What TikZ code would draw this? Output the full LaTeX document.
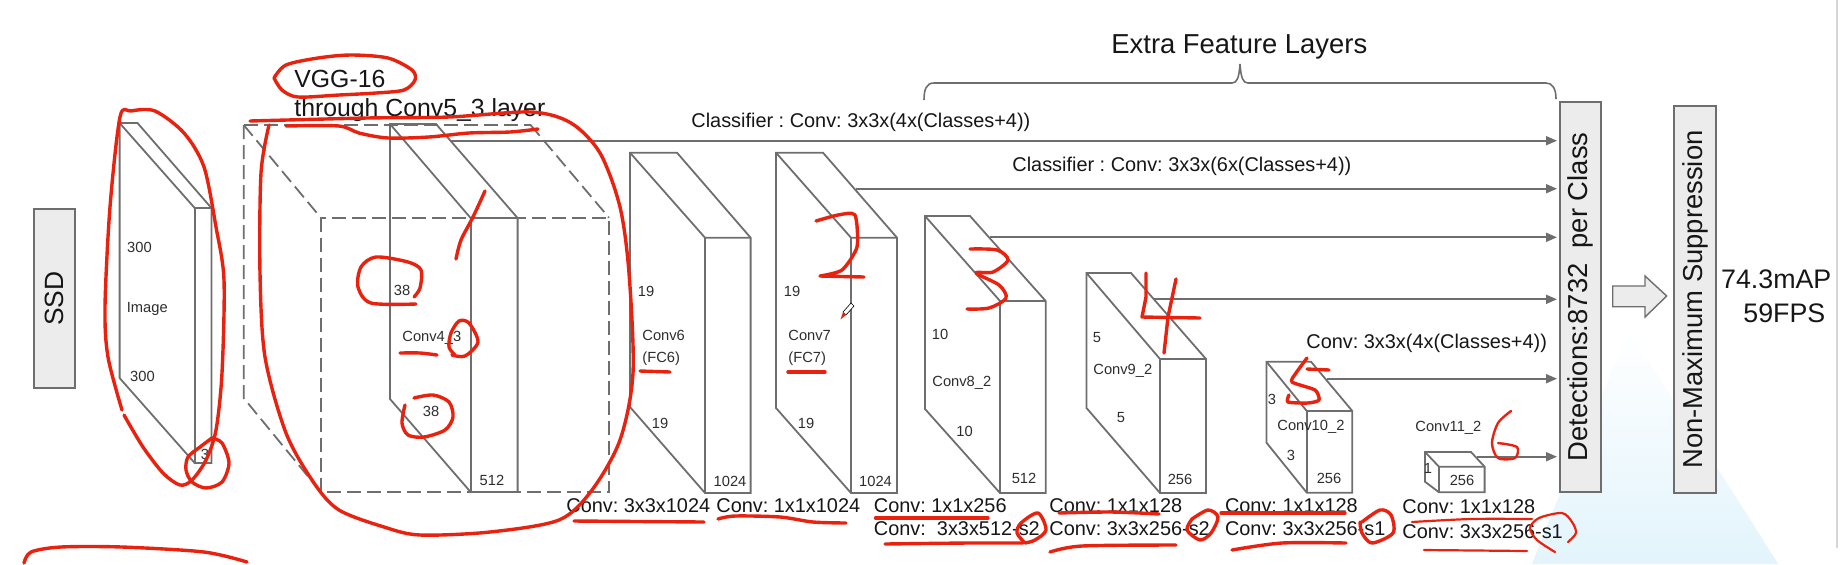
\documentclass[tikz,border=0pt]{standalone}
\usepackage{fontspec}
\setmainfont{Liberation Sans}
\usetikzlibrary{arrows.meta, fadings}
\definecolor{linegray}{HTML}{6E6E6E}
\definecolor{boxgray}{HTML}{ECECEC}
\definecolor{inkred}{HTML}{E8220F}
\definecolor{paleblue}{HTML}{E2F4FC}
\definecolor{inktext}{HTML}{161616}
\frenchspacing

\begin{document}
\begin{tikzpicture}[
		x=0.5pt, y=-0.5pt,
		% Estilos
		cuboid/.style = {draw=linegray, line width=0.9pt, line join=miter},
		dashcube/.style = {draw=linegray, line width=0.9pt, dash pattern=on 7pt off 3pt},
		sidebox/.style = {draw=linegray, line width=1pt, fill=boxgray, rotate=90, inner sep=0pt, text=inktext, font=\fontsize{13.7}{16}\selectfont},
		title/.style = {inner sep=0pt, anchor=west, text=inktext, font=\fontsize{12.4}{15}\selectfont},
		big/.style = {inner sep=0pt, anchor=west, text=inktext, font=\fontsize{13.7}{16}\selectfont},
		score/.style = {inner sep=0pt, anchor=west, text=inktext, font=\fontsize{13.4}{16}\selectfont},
		conv/.style = {inner sep=0pt, anchor=west, text=inktext, font=\fontsize{9.95}{12}\selectfont},
		dim/.style = {inner sep=0pt, text=inktext!90, font=\fontsize{7.35}{9}\selectfont},
		dimw/.style = {dim, anchor=west},
		feed/.style = {draw=linegray, line width=0.9pt, -{Triangle[length=5.5pt,width=4.5pt]}, shorten >=1pt},
		ink/.style = {draw=inkred, line width=1.7pt, line cap=round, line join=round}
		]
		\useasboundingbox (0,0) rectangle (1845,564);
		
		% --- FONDO ---
		\fill [paleblue, path fading=north] (1532,564) .. controls (1560,490) and (1600,400) .. (1629,330) .. controls (1660,380) and (1700,440) .. (1778,564) -- cycle;
		\draw [black!16, line width=1.4pt] (1837,0) -- (1837,548);
		
		% --- CAJAS LATERALES ---
		\node [sidebox, minimum width=89.5pt, minimum height=20.7pt] (ssd) at (54.7,298.5) {\fontsize{13.2}{16}\selectfont SSD};
		\node [sidebox, minimum width=195pt, minimum height=20.6pt] (det) at (1580.6,297) {Detections:8732\ \ per Class};
		\node [sidebox, minimum width=193.6pt, minimum height=21pt] (nms) at (1695,299.4) {Non-Maximum Suppression};
		\draw [draw=linegray, line width=0.7pt, fill=boxgray] (1612.7,286) -- (1645,286) -- (1645,276) -- (1666.7,296) -- (1645,317) -- (1645,306.7) -- (1612.7,306.7) -- cycle;
		
		% --- BLOQUES ---
		% Image
		\draw [cuboid] (119.6,123) -- (137.5,123) -- (211.4,208) -- (211.4,463) -- (194.7,463) -- (119.6,378) -- cycle;
		\draw [cuboid] (119.6,123) -- (194.7,208) -- (211.4,208);
		\draw [cuboid] (194.7,208) -- (194.7,463);
		% VGG-16 (discontinuo)
		\draw [dashcube] (243.7,125) -- (530.6,125);
		\draw [dashcube] (243.7,125) -- (243.7,398) -- (320.8,492);
		\draw [dashcube] (320.8,217.7) rectangle (609,492);
		\draw [dashcube] (243.7,125) -- (320.8,217.7);
		\draw [dashcube] (530.6,125) -- (609,217.7);
		% Conv4_3
		\draw [cuboid] (390,124) -- (436,124) -- (517.6,218) -- (517.6,492) -- (470.6,492) -- (390,399) -- cycle;
		\draw [cuboid] (390,124) -- (470.6,218) -- (517.6,218);
		\draw [cuboid] (470.6,218) -- (470.6,492);
		% Conv6
		\draw [cuboid] (630,152.7) -- (677,152.7) -- (750.6,237.7) -- (750.6,493) -- (705,493) -- (630,407) -- cycle;
		\draw [cuboid] (630,152.7) -- (705,237.7) -- (750.6,237.7);
		\draw [cuboid] (705,237.7) -- (705,493);
		% Conv7
		\draw [cuboid] (776,152.7) -- (823,152.7) -- (897,237.7) -- (897,493) -- (851,493) -- (776,408) -- cycle;
		\draw [cuboid] (776,152.7) -- (851,237.7) -- (897,237.7);
		\draw [cuboid] (851,237.7) -- (851,493);
		% Conv8_2
		\draw [cuboid] (925,216) -- (970,216) -- (1045.7,301) -- (1045.7,493) -- (1000,493) -- (925,409) -- cycle;
		\draw [cuboid] (925,216) -- (1000,301) -- (1045.7,301);
		\draw [cuboid] (1000,301) -- (1000,493);
		% Conv9_2
		\draw [cuboid] (1086.5,273) -- (1131,273) -- (1206,359) -- (1206,493) -- (1160,493) -- (1086.5,408) -- cycle;
		\draw [cuboid] (1086.5,273) -- (1160,359) -- (1206,359);
		\draw [cuboid] (1160,359) -- (1160,493);
		% Conv10_2
		\draw [cuboid] (1266.5,361.7) -- (1311,361.7) -- (1352.3,411) -- (1352.3,492.7) -- (1306.8,492.7) -- (1266.5,442.7) -- cycle;
		\draw [cuboid] (1266.5,361.7) -- (1306.8,411) -- (1352.3,411);
		\draw [cuboid] (1306.8,411) -- (1306.8,492.7);
		% Conv11_2
		\draw [cuboid] (1425,452) -- (1471,452) -- (1484.6,466.7) -- (1484.6,492.3) -- (1439,492.3) -- (1425,481.7) -- cycle;
		\draw [cuboid] (1425,452) -- (1439,466.7) -- (1484.6,466.7);
		\draw [cuboid] (1439,466.7) -- (1439,492.3);
		
		% --- LLAVE ---
		\node [big] (extra) at (1111,47) {Extra Feature Layers};
		\draw [draw=linegray, line width=0.8pt] (924,100) .. controls (924,90) and (926,83) .. (934,83) -- (1232,83) .. controls (1237,83) and (1239,78) .. (1240,64) .. controls (1241,78) and (1243,83) .. (1248,83) -- (1546,83) .. controls (1552,83) and (1556,88) .. (1556,99);
		
		% --- CONEXIONES ---
		\coordinate (tap1) at (451,140.7);
		\coordinate (tap2) at (856,188.7);
		\coordinate (tap3) at (990,237.3);
		\coordinate (tap4) at (1154,299.3);
		\coordinate (tap5) at (1327,378.7);
		\coordinate (tap6) at (1477,456.7);
		\draw [feed] (tap1) -- (tap1 -| det.north);
		\draw [feed] (tap2) -- (tap2 -| det.north);
		\draw [feed] (tap3) -- (tap3 -| det.north);
		\draw [feed] (tap4) -- (tap4 -| det.north);
		\draw [feed] (tap5) -- (tap5 -| det.north);
		\draw [feed] (tap6) -- (tap6 -| det.north);
		
		% --- TEXTOS ---
		\node [title] (vgg) at (294,79) {VGG-16};
		\node [title] (through) at (294,110) {through Conv5\_3 layer};
		\node [conv] (cls1) at (691,122) {Classifier : Conv: 3x3x(4x(Classes+4))};
		\node [conv] (cls2) at (1012,166) {Classifier : Conv: 3x3x(6x(Classes+4))};
		\node [conv] (cls3) at (1306,343) {Conv: 3x3x(4x(Classes+4))};
		\node [score] (map) at (1720.7,279) {74.3mAP};
		\node [score] (fps) at (1743,313) {59FPS};
		
		\node [dim] (img_w) at (139.5,247) {300};
		\node [dimw] (img_lbl) at (126.5,309) {Image};
		\node [dim] (img_h) at (142.5,376) {300};
		\node [dim] (img_d) at (205,454) {3};
		
		\node [dim] (c4_w) at (402,290) {38};
		\node [dimw] (c4_lbl) at (402,338) {Conv4\_3};
		\node [dim] (c4_h) at (431,411) {38};
		\node [dim] (c4_d) at (492,480) {512};
		
		\node [dim] (c6_w) at (646,291) {19};
		\node [dimw, align=left] (c6_lbl) at (642,348) {Conv6\\[2pt](FC6)};
		\node [dim] (c6_h) at (660,423) {19};
		\node [dim] (c6_d) at (730,481) {1024};
		
		\node [dim] (c7_w) at (792,291) {19};
		\node [dimw, align=left] (c7_lbl) at (788,348) {Conv7\\[2pt](FC7)};
		\node [dim] (c7_h) at (806,423) {19};
		\node [dim] (c7_d) at (875.5,481) {1024};
		
		\node [dim] (c8_w) at (940,334) {10};
		\node [dimw] (c8_lbl) at (932,383) {Conv8\_2};
		\node [dim] (c8_h) at (964.5,431) {10};
		\node [dim] (c8_d) at (1024,478) {512};
		
		\node [dim] (c9_w) at (1097,338) {5};
		\node [dimw] (c9_lbl) at (1093,371) {Conv9\_2};
		\node [dim] (c9_h) at (1121,418) {5};
		\node [dim] (c9_d) at (1180,479) {256};
		
		\node [dim] (c10_w) at (1272,399) {3};
		\node [dimw] (c10_lbl) at (1277,427) {Conv10\_2};
		\node [dim] (c10_h) at (1291,455) {3};
		\node [dim] (c10_d) at (1329,478) {256};
		
		\node [dimw] (c11_lbl) at (1415,428) {Conv11\_2};
		\node [dim] (c11_w) at (1428,468) {1};
		\node [dim] (c11_d) at (1462,480) {256};
		
		\node [conv] (op6) at (566,505.7) {Conv: 3x3x1024};
		\node [conv] (op7) at (716,505.7) {Conv: 1x1x1024};
		\node [conv] (op8a) at (873.5,505.7) {Conv: 1x1x256};
		\node [conv] (op8b) at (873.5,529) {Conv:\ \ 3x3x512-s2};
		\node [conv] (op9a) at (1049,505.7) {Conv: 1x1x128};
		\node [conv] (op9b) at (1049,529) {Conv: 3x3x256-s2};
		\node [conv] (op10a) at (1224.6,505.7) {Conv: 1x1x128};
		\node [conv] (op10b) at (1224.6,529) {Conv: 3x3x256-s1};
		\node [conv] (op11a) at (1402,507) {Conv: 1x1x128};
		\node [conv] (op11b) at (1402,532) {Conv: 3x3x256-s1};
		
		% --- TRAZOS ROJOS ---
		\draw [ink] plot [smooth] coordinates {(274,78) (286,65) (318,58) (351,55) (388,58) (412,70) (415,80) (404,90) (376,93) (339,95) (298,97) (282,90) (274,78)};
		\draw [ink] plot [smooth] coordinates {(122,410) (108,357) (105,307) (110,207) (120,117) (131,111) (155,111) (184,133) (204,167) (216,227) (224,280) (222,373) (216,430) (206,460) (192,480) (180,485) (163,473) (143,447) (124,415)};
		\draw [ink] plot [smooth] coordinates {(212,438) (222,443) (229,463) (222,482) (206,488) (192,482) (186,470) (188,457) (200,447) (212,438)};
		\draw [ink] plot [smooth] coordinates {(250,121) (367,118) (449,117) (531,112) (571,123) (600,153) (620,207) (629,273) (633,373) (620,440) (592,490) (559,520) (490,532) (420,535) (384,527) (339,510) (314,483) (286,433) (265,357) (260,273) (261,173) (269,125)};
		\draw [ink] plot [smooth] coordinates {(286,126) (339,126) (359,133) (388,138) (429,137) (469,133) (510,132) (538,129)};
		\draw [ink] plot [smooth] coordinates {(485,191) (473,217) (461,240) (456,259)};
		\draw [ink] plot [smooth] coordinates {(414,297) (420,288) (421,270) (408,262) (376,257) (361,267) (358,287) (371,303) (416,304)};
		\draw [ink] plot [smooth] coordinates {(400,353) (420,353) (437,355)};
		\draw [ink] plot [smooth] coordinates {(452,355) (465,356) (478,342) (469,323) (459,321) (451,333) (449,347) (455,355)};
		\draw [ink] plot [smooth] coordinates {(414,398) (433,395) (449,402) (453,417) (445,430) (424,437) (408,435) (402,423) (405,405)};
		\draw [ink] plot [smooth] coordinates {(24,563) (31,552) (61,547) (122,547) (204,552) (247,562)};
		% subrayados
		\draw [ink] plot [smooth] coordinates {(640,371) (670,372)};
		\draw [ink] plot [smooth] coordinates {(788,372) (825,372)};
		\draw [ink] plot [smooth] coordinates {(574,521) (704,522)};
		\draw [ink] plot [smooth] coordinates {(718,519) (735,516) (780,517) (813,522) (846,523)};
		\draw [ink] plot [smooth] coordinates {(875.5,518) (988,518)};
		\draw [ink] plot [smooth] coordinates {(885,544) (968,543) (1023,543)};
		\draw [ink] plot [smooth] coordinates {(1025,543) (1035,540) (1046,530) (1038,513) (1021,523) (1017,533) (1025,543)};
		\draw [ink] plot [smooth] coordinates {(1059,513) (1111,512) (1159,514)};
		\draw [ink] plot [smooth] coordinates {(1050,552) (1082,546) (1176,545)};
		\draw [ink] plot [smooth] coordinates {(1192,519) (1208,510) (1218,517) (1211,533) (1200,540) (1187,530) (1192,519)};
		\draw [ink] plot [smooth] coordinates {(1221,513) (1345,513)};
		\draw [ink] plot [smooth] coordinates {(1232,550) (1282,543) (1346,543)};
		\draw [ink] plot [smooth] coordinates {(1362,522) (1380,510) (1391,515) (1393,533) (1372,543) (1362,533) (1360,522)};
		\draw [ink, line width=1.1pt] plot [smooth] coordinates {(1412,522) (1471,519) (1532,519)};
		\draw [ink, line width=1.1pt] (1424,550) -- (1527,551);
		\draw [ink, line width=1.1pt] plot [smooth] coordinates {(1555,552) (1537,540) (1530,528) (1539,518) (1562,513) (1572,522) (1576,533) (1568,542)};
		% numeros
		\draw [ink] plot [smooth, tension=0.4] coordinates {(816,221) (838,215) (855,215) (857,247) (842,270) (820,276)} -- (864,277);
		\draw [ink] plot [smooth] coordinates {(970,249) (997,250) (1008,260) (993,272) (976,273) (999,285) (1006,298) (989,308) (967,309)};
		\draw [ink] (1146,273) -- (1146,297) -- (1142,317) -- (1200,318);
		\draw [ink] (1176,279) -- (1168,317) -- (1164,353);
		\draw [ink] plot [smooth, tension=0.4] coordinates {(1307,358) (1296,373) (1292,382) (1315,390) (1319,400) (1308,403) (1288,402) (1289,395)};
		\draw [ink] (1307,369) -- (1329,370);
		\draw [ink, line width=1.2pt] plot [smooth] coordinates {(1511,411) (1498,423) (1492,443) (1498,458) (1515,458) (1517,447) (1498,443)};
		
		% --- CURSOR ---
		\draw [black, fill=white, line width=0.3pt] (851,303) -- (854,306) -- (846,315) -- (843,312) -- cycle;
		\fill [inkred] (843,312) -- (846,315) -- (840.5,319.5) -- cycle;
		
	\end{tikzpicture}
\end{document}
